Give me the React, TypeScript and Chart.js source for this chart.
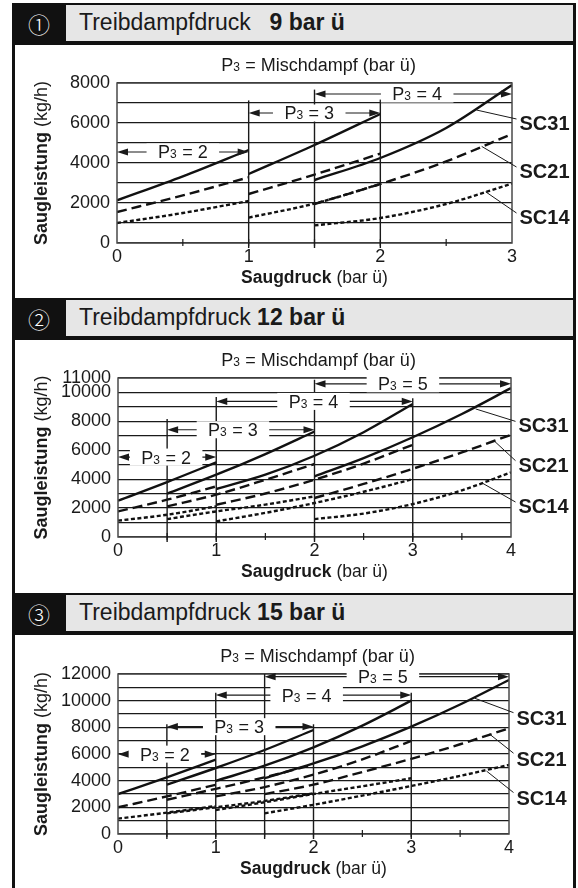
import React, { useEffect, useRef } from 'react';
import { Chart, registerables } from 'chart.js';

Chart.register(...registerables);

type Pt = [number, number];

// ---------------- Panel ① : Treibdampfdruck 9 bar ü ----------------
const p1XTickLabels = [0, 1, 2, 3];
const p1YTickLabels = [0, 2000, 4000, 6000, 8000];
// one array per P3 (Mischdampf) range: [Saugdruck bar ü, Saugleistung kg/h]
const p1SC31: Pt[][] = [
  [[0, 2130], [0.5, 3330], [1, 4650]],
  [[1, 3450], [1.5, 4900], [2, 6450]],
  [[1.5, 3150], [2, 4250], [2.5, 5750], [3, 7900]],
];
const p1SC21: Pt[][] = [
  [[0, 1550], [0.5, 2380], [1, 3280]],
  [[1, 2450], [1.5, 3420], [2, 4470]],
  [[1.5, 1950], [2, 2950], [2.5, 4080], [3, 5450]],
];
const p1SC14: Pt[][] = [
  [[0, 1000], [0.5, 1500], [1, 2100]],
  [[1, 1270], [1.5, 1970], [2, 2950]],
  [[1.5, 880], [2, 1250], [2.5, 1950], [3, 2970]],
];
// [x, top of line]
const p1VLines: Pt[] = [[1, 7130], [1.5, 7670], [2, 7170]];
// [P3, from x, to x, y, label centre x]
const p1Arrows: number[][] = [[2, 0, 1, 4550, 0.5], [3, 1, 2, 6500, 1.46], [4, 1.5, 3, 7450, 2.28]];
// [name, curve x, curve y, leader end y, label y]
const p1Leaders: (string | number)[][] = [
  ['SC31', 2.73, 6650, 6200, 6000],
  ['SC21', 2.77, 4830, 3800, 3630],
  ['SC14', 2.8, 2560, 1500, 1290],
];

// ---------------- Panel ② : Treibdampfdruck 12 bar ü ----------------
const p2XTickLabels = [0, 1, 2, 3, 4];
const p2YTickLabels = [0, 2000, 4000, 6000, 8000, 10000, 11000];
const p2SC31: Pt[][] = [
  [[0, 2510], [0.5, 3800], [1, 5160]],
  [[0.5, 3000], [1, 4310], [1.5, 5740], [2, 7300]],
  [[1, 3320], [1.5, 4310], [2, 5620], [2.5, 7250], [3, 9200]],
  [[2, 4200], [2.5, 5460], [3, 6900], [3.5, 8510], [4, 10300]],
];
const p2SC21: Pt[][] = [
  [[0, 1770], [0.5, 2580], [1, 3500]],
  [[0.5, 2120], [1, 2930], [1.5, 3960], [2, 5050]],
  [[1, 2230], [1.5, 3010], [2, 3960], [2.5, 5080], [3, 6380]],
  [[2, 2700], [2.5, 3670], [3, 4720], [3.5, 5850], [4, 7070]],
];
const p2SC14: Pt[][] = [
  [[0, 1130], [0.5, 1540], [1, 2120]],
  [[0.5, 1240], [1, 1770], [1.5, 2240], [2, 2810]],
  [[1, 1080], [1.5, 1670], [2, 2350], [2.5, 3130], [3, 4000]],
  [[2, 1240], [2.5, 1620], [3, 2280], [3.5, 3230], [4, 4470]],
];
const p2VLines: Pt[] = [[0.5, 8160], [1, 9680], [2, 10880], [3, 9600]];
const p2Arrows: number[][] = [[2, 0, 1, 5530, 0.49], [3, 0.5, 2, 7420, 1.17], [4, 1, 3, 9380, 1.99], [5, 2, 4, 10600, 2.9]];
const p2Leaders: (string | number)[][] = [
  ['SC31', 3.64, 8860, 8000, 7770],
  ['SC21', 3.83, 6640, 5280, 5000],
  ['SC14', 3.71, 3720, 2420, 2190],
];

// ---------------- Panel ③ : Treibdampfdruck 15 bar ü ----------------
const p3XTickLabels = [0, 1, 2, 3, 4];
const p3YTickLabels = [0, 2000, 4000, 6000, 8000, 10000, 12000];
const p3SC31: Pt[][] = [
  [[0, 2990], [0.5, 4250], [1, 5570]],
  [[0.5, 3700], [1, 4950], [1.5, 6300], [2, 7800]],
  [[1, 3980], [1.5, 5120], [2, 6500], [2.5, 8130], [3, 10000]],
  [[1.5, 4190], [2, 5290], [2.5, 6580], [3, 8050], [3.5, 9710], [4, 11550]],
];
const p3SC21: Pt[][] = [
  [[0, 2000], [0.5, 2820], [1, 3690]],
  [[0.5, 2570], [1, 3390], [1.5, 4250], [2, 5200]],
  [[1, 2820], [1.5, 3520], [2, 4450], [2.5, 5600], [3, 6980]],
  [[1.5, 2990], [2, 3700], [2.5, 4650], [3, 5640], [3.5, 6730], [4, 7930]],
];
const p3SC14: Pt[][] = [
  [[0, 1150], [0.5, 1600], [1, 2100]],
  [[0.5, 1550], [1, 2000], [1.5, 2480], [2, 3050]],
  [[1, 1800], [1.5, 2380], [2, 3000], [2.5, 3580], [3, 4180]],
  [[1.5, 1550], [2, 2190], [2.5, 2880], [3, 3600], [3.5, 4360], [4, 5180]],
];
const p3VLines: Pt[] = [[0.5, 8230], [1, 10600], [1.5, 12000], [2, 8230], [3, 10600]];
const p3Arrows: number[][] = [[2, 0, 1, 5990, 0.48], [3, 0.5, 2, 8050, 1.24], [4, 1, 3, 10420, 1.93], [5, 1.5, 4, 11800, 2.71]];
const p3Leaders: (string | number)[][] = [
  ['SC31', 3.65, 10180, 9100, 8680],
  ['SC21', 3.8, 7500, 6060, 5610],
  ['SC14', 3.77, 4720, 3110, 2690],
];

// ------------------------------------------------------------------
const FONT = '"Liberation Sans", Arial, Helvetica, sans-serif';
const INK = '#1a1a1a';
const CW = 558;
const CH = 253;
const XAXIS_H = 40;

interface PanelData {
  num: string;
  pressure: string;
  wide: boolean;
  xMax: number;
  yMax: number;
  xLabels: number[];
  yLabels: number[];
  sc31: Pt[][];
  sc21: Pt[][];
  sc14: Pt[][];
  vlines: Pt[];
  arrows: number[][];
  leaders: (string | number)[][];
  area: { left: number; right: number; top: number; bottom: number };
  top: number;
}

const panels: PanelData[] = [
  {
    num: '①', pressure: '9 bar ü', wide: true, xMax: 3, yMax: 8000,
    xLabels: p1XTickLabels, yLabels: p1YTickLabels,
    sc31: p1SC31, sc21: p1SC21, sc14: p1SC14,
    vlines: p1VLines, arrows: p1Arrows, leaders: p1Leaders,
    area: { left: 102, right: 497, top: 38, bottom: 198 }, top: 3,
  },
  {
    num: '②', pressure: '12 bar ü', wide: false, xMax: 4, yMax: 11000,
    xLabels: p2XTickLabels, yLabels: p2YTickLabels,
    sc31: p2SC31, sc21: p2SC21, sc14: p2SC14,
    vlines: p2VLines, arrows: p2Arrows, leaders: p2Leaders,
    area: { left: 103, right: 496, top: 38, bottom: 197 }, top: 298,
  },
  {
    num: '③', pressure: '15 bar ü', wide: false, xMax: 4, yMax: 12000,
    xLabels: p3XTickLabels, yLabels: p3YTickLabels,
    sc31: p3SC31, sc21: p3SC21, sc14: p3SC14,
    vlines: p3VLines, arrows: p3Arrows, leaders: p3Leaders,
    area: { left: 103, right: 494, top: 39, bottom: 199 }, top: 593,
  },
];

function drawP3(ctx: CanvasRenderingContext2D, cx: number, cy: number, rest: string, size: number) {
  const big = `${size}px ${FONT}`;
  const small = `${Math.round(size * 0.68)}px ${FONT}`;
  ctx.font = big;
  const wP = ctx.measureText('P').width;
  const wR = ctx.measureText(rest).width;
  ctx.font = small;
  const w3 = ctx.measureText('3').width + 0.5;
  const total = wP + w3 + wR;
  let x = cx - total / 2;
  const base = cy + size * 0.36;
  ctx.textAlign = 'left';
  ctx.textBaseline = 'alphabetic';
  ctx.fillStyle = INK;
  ctx.font = big;
  ctx.fillText('P', x, base);
  x += wP;
  ctx.font = small;
  ctx.fillText('3', x, base);
  x += w3;
  ctx.font = big;
  ctx.fillText(rest, x, base);
  return total;
}

function drawMixed(ctx: CanvasRenderingContext2D, parts: [string, boolean][], size: number, cx: number, cy: number, rotate: boolean) {
  ctx.save();
  ctx.translate(cx, cy);
  if (rotate) ctx.rotate(-Math.PI / 2);
  const widths = parts.map(([t, b]) => {
    ctx.font = `${b ? 'bold ' : ''}${size}px ${FONT}`;
    return ctx.measureText(t).width;
  });
  const total = widths.reduce((a, b) => a + b, 0);
  let x = -total / 2;
  ctx.textAlign = 'left';
  ctx.textBaseline = 'alphabetic';
  ctx.fillStyle = INK;
  parts.forEach(([t, b], i) => {
    ctx.font = `${b ? 'bold ' : ''}${size}px ${FONT}`;
    ctx.fillText(t, x, size * 0.36);
    x += widths[i];
  });
  ctx.restore();
}

function makeDeco(p: PanelData) {
  return {
    id: 'deco',
    afterDatasetsDraw(chart: any) {
      const { ctx, chartArea: a, scales } = chart;
      const xs = scales.x;
      const ys = scales.y;
      const px = (v: number) => xs.getPixelForValue(v);
      const py = (v: number) => ys.getPixelForValue(v);
      ctx.save();
      // frame
      ctx.strokeStyle = '#4a4a4a';
      ctx.lineWidth = 1.5;
      ctx.strokeRect(a.left, a.top, a.right - a.left, a.bottom - a.top);
      // minor ticks on x axis (from the axis' own ticks)
      ctx.strokeStyle = INK;
      ctx.lineWidth = 1.2;
      for (const t of xs.ticks) {
        const v = t.value;
        if (v <= 0 || v >= p.xMax) continue;
        const x = px(v);
        ctx.beginPath();
        ctx.moveTo(x, a.bottom - 4);
        ctx.lineTo(x, a.bottom + 3);
        ctx.stroke();
      }
      // vertical range lines
      ctx.lineWidth = 1.4;
      for (const [x, top] of p.vlines) {
        ctx.beginPath();
        ctx.moveTo(px(x), py(top));
        ctx.lineTo(px(x), a.bottom + 5);
        ctx.stroke();
      }
      // arrows
      ctx.lineWidth = 1.2;
      for (const [p3, from, to, y, lx] of p.arrows) {
        const x1 = px(from), x2 = px(to), yy = py(y);
        ctx.strokeStyle = INK;
        ctx.fillStyle = INK;
        ctx.beginPath();
        ctx.moveTo(x1 + 4, yy);
        ctx.lineTo(x2 - 4, yy);
        ctx.stroke();
        const L = 11, Wd = 3.6;
        ctx.beginPath();
        ctx.moveTo(x1, yy); ctx.lineTo(x1 + L, yy - Wd); ctx.lineTo(x1 + L, yy + Wd); ctx.closePath(); ctx.fill();
        ctx.beginPath();
        ctx.moveTo(x2, yy); ctx.lineTo(x2 - L, yy - Wd); ctx.lineTo(x2 - L, yy + Wd); ctx.closePath(); ctx.fill();
        // label with white box
        ctx.font = `18px ${FONT}`;
        const rest = ` = ${p3}`;
        const w = ctx.measureText('P' + rest).width + 8;
        const cx = px(lx);
        ctx.fillStyle = '#fff';
        ctx.fillRect(cx - w / 2 - 11, yy - 8.5, w + 22, 17);
        drawP3(ctx, cx, yy, rest, 18);
      }
      // leaders + SC labels
      ctx.strokeStyle = INK;
      ctx.lineWidth = 1;
      for (const [name, cxv, cyv, endY, labY] of p.leaders) {
        ctx.beginPath();
        ctx.moveTo(px(cxv as number), py(cyv as number));
        ctx.lineTo(a.right + 4.5, py(endY as number));
        ctx.stroke();
        ctx.font = `bold 20px ${FONT}`;
        ctx.fillStyle = INK;
        ctx.textAlign = 'left';
        ctx.textBaseline = 'alphabetic';
        ctx.fillText(name as string, a.right + 7.5, py(labY as number) + 7.2);
      }
      ctx.restore();
    },
    afterDraw(chart: any) {
      const { ctx, chartArea: a } = chart;
      ctx.save();
      drawP3(ctx, (a.left + a.right) / 2 + 4, a.top - 18, ' = Mischdampf (bar ü)', 18);
      drawMixed(ctx, [['Saugdruck', true], [' (bar ü)', false]], 17.5, (a.left + a.right) / 2, a.bottom + 34, false);
      drawMixed(ctx, [['Saugleistung', true], [' (kg/h)', false]], 18, 26, (a.top + a.bottom) / 2, true);
      ctx.restore();
    },
  };
}

function PanelChart({ p }: { p: PanelData }) {
  const ref = useRef<HTMLCanvasElement>(null);
  useEffect(() => {
    const styles: { list: Pt[][]; dash: number[] }[] = [
      { list: p.sc31, dash: [] },
      { list: p.sc21, dash: [10, 5] },
      { list: p.sc14, dash: [4, 2.5] },
    ];
    const datasets: any[] = [];
    for (const s of styles) {
      for (const seg of s.list) {
        datasets.push({
          data: seg.map(([x, y]) => ({ x, y })),
          borderColor: '#111',
          borderWidth: 2.4,
          borderDash: s.dash,
          borderCapStyle: 'butt',
          pointRadius: 0,
          cubicInterpolationMode: 'monotone',
          fill: false,
        });
      }
    }
    const a = p.area;
    const chart = new Chart(ref.current as HTMLCanvasElement, {
      type: 'line',
      data: { datasets },
      options: {
        responsive: false,
        animation: false,
        events: [],
        layout: { padding: { left: 0, top: a.top, right: CW - a.right, bottom: CH - a.bottom - XAXIS_H } },
        plugins: { legend: { display: false }, tooltip: { enabled: false }, title: { display: false } },
        scales: {
          x: {
            type: 'linear',
            min: 0,
            max: p.xMax,
            afterFit: (s: any) => { s.height = XAXIS_H; },
            grid: { display: false, drawTicks: false },
            border: { display: false },
            ticks: {
              stepSize: 0.5,
              autoSkip: false,
              maxRotation: 0,
              padding: 3,
              color: INK,
              font: { family: FONT, size: 18 },
              callback: (v: any) => (p.xLabels.includes(Number(v)) ? String(v) : ''),
            },
          },
          y: {
            type: 'linear',
            min: 0,
            max: p.yMax,
            afterFit: (s: any) => { s.width = a.left; },
            grid: { color: INK, lineWidth: 1.2, drawTicks: false },
            border: { display: false },
            ticks: {
              stepSize: 1000,
              autoSkip: false,
              padding: 7,
              color: INK,
              font: { family: FONT, size: 18 },
              callback: (v: any) => (p.yLabels.includes(Number(v)) ? String(v) : ''),
            },
          },
        },
      },
      plugins: [makeDeco(p)],
    } as any);
    return () => chart.destroy();
  }, [p]);
  return (
    <canvas
      ref={ref}
      width={CW}
      height={CH}
      style={{ position: 'absolute', left: 15, top: p.top + 42, width: CW, height: CH, display: 'block' }}
    />
  );
}

function Header({ p }: { p: PanelData }) {
  return (
    <div style={{ position: 'absolute', left: 12, top: p.top, width: 564, height: 42, background: '#111' }}>
      <div
        style={{
          position: 'absolute', left: 0, top: 2, width: 54, height: 36, color: '#fff',
          fontFamily: '"Noto Sans CJK JP", "Noto Sans CJK SC", "DejaVu Sans", sans-serif', fontSize: 22,
          lineHeight: '36px', textAlign: 'center', fontWeight: 300,
        }}
      >
        {p.num}
      </div>
      <div
        style={{
          position: 'absolute', left: 54, top: 2.3, width: 507, height: 35.5, background: '#e6e6e6',
          fontFamily: FONT, fontSize: 23, lineHeight: '35.5px', color: INK, paddingLeft: 13, boxSizing: 'border-box',
          whiteSpace: 'pre',
        }}
      >
        Treibdampfdruck{p.wide ? '  ' : ' '}
        <b style={{ marginLeft: p.wide ? 6 : 0 }}>{p.pressure}</b>
      </div>
    </div>
  );
}

export default function App() {
  return (
    <div style={{ position: 'fixed', left: 0, top: 0, width: 578, height: 888, background: '#fff', overflow: 'hidden' }}>
      <div style={{ position: 'absolute', left: 12, top: 3, width: 3, height: 885, background: '#111' }} />
      <div style={{ position: 'absolute', left: 573, top: 3, width: 3, height: 885, background: '#111' }} />
      {panels.map((p, i) => (
        <React.Fragment key={i}>
          <Header p={p} />
          <PanelChart p={p} />
        </React.Fragment>
      ))}
    </div>
  );
}
